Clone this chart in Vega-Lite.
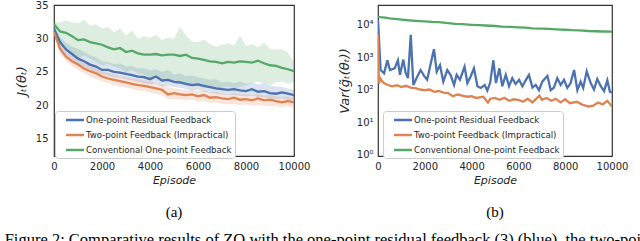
{
  "$schema": "https://vega.github.io/schema/vega-lite/v6.json",
  "padding": {"left": 4, "top": 0, "right": 5, "bottom": 5},
  "background": "white",
  "config": {
    "view": {"stroke": "#333333", "strokeWidth": 1.2},
    "axis": {"domain": false, "ticks": false, "grid": false, "labelOverlap": false, "labelFont": "DejaVu Sans", "labelFontSize": 10, "labelColor": "#262626", "titleFont": "DejaVu Sans", "titleFontSize": 11, "titleFontStyle": "italic", "titleFontWeight": "normal", "titleColor": "#262626"},
    "legend": {"fillColor": "white", "strokeColor": "#cccccc", "cornerRadius": 3, "padding": 3, "labelFont": "DejaVu Sans", "labelFontSize": 8.6, "labelColor": "#262626", "labelLimit": 400, "symbolType": "M-2,0H2", "symbolSize": 81, "symbolStrokeWidth": 2.5, "symbolOpacity": 1, "symbolOffset": 11, "rowPadding": 4, "labelOffset": 5, "title": null},
    "title": {"font": "Liberation Serif", "fontSize": 14, "fontWeight": "normal", "color": "black"}
  },
  "title": {"text": "Figure 2: Comparative results of ZO with the one-point residual feedback (3) (blue), the two-point feedback", "orient": "bottom", "anchor": "start", "dx": -10, "offset": 11, "fontSize": 16.5},
  "resolve": {"legend": {"color": "independent"}},
  "spacing": 26,
  "hconcat": [
    {
      "width": 240,
      "height": 151,
      "title": {"text": "(a)", "orient": "bottom", "offset": 20, "fontSize": 15},
      "data": {"values": [
        {"s":"One-point Residual Feedback","ep":0,"m":31.5,"lo":31.0,"hi":32.0},
        {"s":"One-point Residual Feedback","ep":250,"m":29.5,"lo":28.8,"hi":30.3},
        {"s":"One-point Residual Feedback","ep":500,"m":28.4,"lo":27.6,"hi":29.4},
        {"s":"One-point Residual Feedback","ep":750,"m":27.7,"lo":26.8,"hi":28.8},
        {"s":"One-point Residual Feedback","ep":1000,"m":27.0,"lo":26.2,"hi":28.5},
        {"s":"One-point Residual Feedback","ep":1250,"m":26.6,"lo":25.7,"hi":28.0},
        {"s":"One-point Residual Feedback","ep":1500,"m":26.1,"lo":25.3,"hi":27.5},
        {"s":"One-point Residual Feedback","ep":1750,"m":25.8,"lo":24.9,"hi":27.2},
        {"s":"One-point Residual Feedback","ep":2000,"m":25.3,"lo":24.6,"hi":26.6},
        {"s":"One-point Residual Feedback","ep":2250,"m":25.3,"lo":24.4,"hi":26.5},
        {"s":"One-point Residual Feedback","ep":2500,"m":25.0,"lo":24.2,"hi":26.2},
        {"s":"One-point Residual Feedback","ep":2750,"m":24.9,"lo":24.1,"hi":26.3},
        {"s":"One-point Residual Feedback","ep":3000,"m":24.7,"lo":23.9,"hi":25.8},
        {"s":"One-point Residual Feedback","ep":3250,"m":24.5,"lo":23.7,"hi":25.9},
        {"s":"One-point Residual Feedback","ep":3500,"m":24.3,"lo":23.5,"hi":25.5},
        {"s":"One-point Residual Feedback","ep":3750,"m":24.2,"lo":23.3,"hi":25.6},
        {"s":"One-point Residual Feedback","ep":4000,"m":23.9,"lo":23.1,"hi":25.2},
        {"s":"One-point Residual Feedback","ep":4250,"m":24.3,"lo":23.3,"hi":25.4},
        {"s":"One-point Residual Feedback","ep":4500,"m":23.7,"lo":22.8,"hi":25.0},
        {"s":"One-point Residual Feedback","ep":4750,"m":23.8,"lo":22.9,"hi":25.3},
        {"s":"One-point Residual Feedback","ep":5000,"m":23.5,"lo":22.7,"hi":24.6},
        {"s":"One-point Residual Feedback","ep":5250,"m":23.4,"lo":22.6,"hi":24.8},
        {"s":"One-point Residual Feedback","ep":5500,"m":23.2,"lo":22.4,"hi":24.3},
        {"s":"One-point Residual Feedback","ep":5750,"m":23.0,"lo":22.2,"hi":24.5},
        {"s":"One-point Residual Feedback","ep":6000,"m":23.1,"lo":22.3,"hi":24.2},
        {"s":"One-point Residual Feedback","ep":6250,"m":22.9,"lo":22.0,"hi":24.0},
        {"s":"One-point Residual Feedback","ep":6500,"m":22.7,"lo":21.9,"hi":23.8},
        {"s":"One-point Residual Feedback","ep":6750,"m":22.5,"lo":21.7,"hi":23.9},
        {"s":"One-point Residual Feedback","ep":7000,"m":22.4,"lo":21.6,"hi":23.4},
        {"s":"One-point Residual Feedback","ep":7250,"m":22.3,"lo":21.5,"hi":23.5},
        {"s":"One-point Residual Feedback","ep":7500,"m":22.4,"lo":21.5,"hi":23.3},
        {"s":"One-point Residual Feedback","ep":7750,"m":22.2,"lo":21.4,"hi":23.6},
        {"s":"One-point Residual Feedback","ep":8000,"m":22.1,"lo":21.3,"hi":23.2},
        {"s":"One-point Residual Feedback","ep":8250,"m":22.4,"lo":21.4,"hi":23.4},
        {"s":"One-point Residual Feedback","ep":8500,"m":22.0,"lo":21.2,"hi":23.1},
        {"s":"One-point Residual Feedback","ep":8750,"m":22.1,"lo":21.2,"hi":23.3},
        {"s":"One-point Residual Feedback","ep":9000,"m":21.8,"lo":21.0,"hi":22.9},
        {"s":"One-point Residual Feedback","ep":9250,"m":21.7,"lo":20.9,"hi":22.8},
        {"s":"One-point Residual Feedback","ep":9500,"m":21.9,"lo":21.0,"hi":22.7},
        {"s":"One-point Residual Feedback","ep":9750,"m":21.7,"lo":20.8,"hi":22.5},
        {"s":"One-point Residual Feedback","ep":10000,"m":21.5,"lo":20.7,"hi":22.3},
        {"s":"Two-point Feedback (Impractical)","ep":0,"m":31.0,"lo":30.6,"hi":31.5},
        {"s":"Two-point Feedback (Impractical)","ep":250,"m":28.5,"lo":27.9,"hi":29.2},
        {"s":"Two-point Feedback (Impractical)","ep":500,"m":27.3,"lo":26.6,"hi":28.0},
        {"s":"Two-point Feedback (Impractical)","ep":750,"m":26.6,"lo":25.9,"hi":27.4},
        {"s":"Two-point Feedback (Impractical)","ep":1000,"m":26.1,"lo":25.3,"hi":26.9},
        {"s":"Two-point Feedback (Impractical)","ep":1250,"m":25.5,"lo":24.8,"hi":26.3},
        {"s":"Two-point Feedback (Impractical)","ep":1500,"m":25.1,"lo":24.3,"hi":25.9},
        {"s":"Two-point Feedback (Impractical)","ep":1750,"m":24.8,"lo":23.9,"hi":25.5},
        {"s":"Two-point Feedback (Impractical)","ep":2000,"m":24.3,"lo":23.6,"hi":25.1},
        {"s":"Two-point Feedback (Impractical)","ep":2250,"m":24.0,"lo":23.3,"hi":24.8},
        {"s":"Two-point Feedback (Impractical)","ep":2500,"m":23.8,"lo":23.0,"hi":24.6},
        {"s":"Two-point Feedback (Impractical)","ep":2750,"m":23.6,"lo":22.8,"hi":24.3},
        {"s":"Two-point Feedback (Impractical)","ep":3000,"m":23.4,"lo":22.6,"hi":24.2},
        {"s":"Two-point Feedback (Impractical)","ep":3250,"m":23.2,"lo":22.4,"hi":24.0},
        {"s":"Two-point Feedback (Impractical)","ep":3500,"m":23.0,"lo":22.2,"hi":23.9},
        {"s":"Two-point Feedback (Impractical)","ep":3750,"m":22.9,"lo":22.1,"hi":23.7},
        {"s":"Two-point Feedback (Impractical)","ep":4000,"m":22.7,"lo":21.9,"hi":23.6},
        {"s":"Two-point Feedback (Impractical)","ep":4250,"m":22.5,"lo":21.7,"hi":23.3},
        {"s":"Two-point Feedback (Impractical)","ep":4500,"m":22.3,"lo":21.5,"hi":23.1},
        {"s":"Two-point Feedback (Impractical)","ep":4750,"m":21.6,"lo":20.9,"hi":22.8},
        {"s":"Two-point Feedback (Impractical)","ep":5000,"m":21.8,"lo":20.9,"hi":22.5},
        {"s":"Two-point Feedback (Impractical)","ep":5250,"m":21.6,"lo":20.8,"hi":22.4},
        {"s":"Two-point Feedback (Impractical)","ep":5500,"m":21.5,"lo":20.7,"hi":22.2},
        {"s":"Two-point Feedback (Impractical)","ep":5750,"m":21.6,"lo":20.8,"hi":22.3},
        {"s":"Two-point Feedback (Impractical)","ep":6000,"m":21.3,"lo":20.5,"hi":22.1},
        {"s":"Two-point Feedback (Impractical)","ep":6250,"m":21.5,"lo":20.6,"hi":22.2},
        {"s":"Two-point Feedback (Impractical)","ep":6500,"m":21.1,"lo":20.3,"hi":21.9},
        {"s":"Two-point Feedback (Impractical)","ep":6750,"m":21.2,"lo":20.4,"hi":22.0},
        {"s":"Two-point Feedback (Impractical)","ep":7000,"m":21.0,"lo":20.2,"hi":21.7},
        {"s":"Two-point Feedback (Impractical)","ep":7250,"m":20.9,"lo":20.1,"hi":21.6},
        {"s":"Two-point Feedback (Impractical)","ep":7500,"m":21.1,"lo":20.1,"hi":21.8},
        {"s":"Two-point Feedback (Impractical)","ep":7750,"m":20.8,"lo":20.0,"hi":21.6},
        {"s":"Two-point Feedback (Impractical)","ep":8000,"m":20.9,"lo":20.1,"hi":21.6},
        {"s":"Two-point Feedback (Impractical)","ep":8250,"m":20.7,"lo":19.9,"hi":21.5},
        {"s":"Two-point Feedback (Impractical)","ep":8500,"m":21.0,"lo":20.0,"hi":21.7},
        {"s":"Two-point Feedback (Impractical)","ep":8750,"m":20.7,"lo":19.9,"hi":21.4},
        {"s":"Two-point Feedback (Impractical)","ep":9000,"m":20.8,"lo":19.8,"hi":21.5},
        {"s":"Two-point Feedback (Impractical)","ep":9250,"m":20.6,"lo":19.8,"hi":21.3},
        {"s":"Two-point Feedback (Impractical)","ep":9500,"m":20.4,"lo":19.7,"hi":21.2},
        {"s":"Two-point Feedback (Impractical)","ep":9750,"m":20.6,"lo":19.8,"hi":21.3},
        {"s":"Two-point Feedback (Impractical)","ep":10000,"m":20.4,"lo":19.6,"hi":21.1},
        {"s":"Conventional One-point Feedback","ep":0,"m":32.2,"lo":31.5,"hi":32.6},
        {"s":"Conventional One-point Feedback","ep":250,"m":31.1,"lo":29.5,"hi":32.4},
        {"s":"Conventional One-point Feedback","ep":500,"m":30.9,"lo":28.5,"hi":32.8},
        {"s":"Conventional One-point Feedback","ep":750,"m":30.4,"lo":27.8,"hi":32.5},
        {"s":"Conventional One-point Feedback","ep":1000,"m":29.8,"lo":27.0,"hi":32.3},
        {"s":"Conventional One-point Feedback","ep":1250,"m":29.9,"lo":27.5,"hi":32.9},
        {"s":"Conventional One-point Feedback","ep":1500,"m":29.5,"lo":27.0,"hi":32.0},
        {"s":"Conventional One-point Feedback","ep":1750,"m":29.3,"lo":26.5,"hi":32.2},
        {"s":"Conventional One-point Feedback","ep":2000,"m":29.1,"lo":26.0,"hi":31.5},
        {"s":"Conventional One-point Feedback","ep":2250,"m":28.7,"lo":26.2,"hi":31.8},
        {"s":"Conventional One-point Feedback","ep":2500,"m":28.4,"lo":25.8,"hi":31.0},
        {"s":"Conventional One-point Feedback","ep":2750,"m":28.6,"lo":25.5,"hi":31.6},
        {"s":"Conventional One-point Feedback","ep":3000,"m":28.0,"lo":25.0,"hi":30.5},
        {"s":"Conventional One-point Feedback","ep":3250,"m":28.2,"lo":25.3,"hi":31.2},
        {"s":"Conventional One-point Feedback","ep":3500,"m":27.8,"lo":24.8,"hi":30.0},
        {"s":"Conventional One-point Feedback","ep":3750,"m":27.6,"lo":24.6,"hi":30.4},
        {"s":"Conventional One-point Feedback","ep":4000,"m":27.6,"lo":24.0,"hi":30.1},
        {"s":"Conventional One-point Feedback","ep":4250,"m":27.7,"lo":24.5,"hi":30.6},
        {"s":"Conventional One-point Feedback","ep":4500,"m":27.5,"lo":23.6,"hi":29.8},
        {"s":"Conventional One-point Feedback","ep":4750,"m":27.6,"lo":23.8,"hi":30.2},
        {"s":"Conventional One-point Feedback","ep":5000,"m":27.6,"lo":23.5,"hi":30.0},
        {"s":"Conventional One-point Feedback","ep":5250,"m":27.4,"lo":23.2,"hi":31.8},
        {"s":"Conventional One-point Feedback","ep":5500,"m":27.6,"lo":23.0,"hi":30.5},
        {"s":"Conventional One-point Feedback","ep":5750,"m":27.1,"lo":22.8,"hi":29.6},
        {"s":"Conventional One-point Feedback","ep":6000,"m":27.0,"lo":22.9,"hi":29.5},
        {"s":"Conventional One-point Feedback","ep":6250,"m":26.8,"lo":22.5,"hi":29.9},
        {"s":"Conventional One-point Feedback","ep":6500,"m":26.6,"lo":22.7,"hi":29.2},
        {"s":"Conventional One-point Feedback","ep":6750,"m":26.5,"lo":22.4,"hi":28.8},
        {"s":"Conventional One-point Feedback","ep":7000,"m":26.3,"lo":22.6,"hi":29.1},
        {"s":"Conventional One-point Feedback","ep":7250,"m":26.5,"lo":22.8,"hi":29.3},
        {"s":"Conventional One-point Feedback","ep":7500,"m":26.4,"lo":22.5,"hi":29.0},
        {"s":"Conventional One-point Feedback","ep":7750,"m":26.6,"lo":22.7,"hi":30.5},
        {"s":"Conventional One-point Feedback","ep":8000,"m":26.5,"lo":23.0,"hi":28.9},
        {"s":"Conventional One-point Feedback","ep":8250,"m":26.4,"lo":23.3,"hi":29.2},
        {"s":"Conventional One-point Feedback","ep":8500,"m":26.7,"lo":23.5,"hi":28.7},
        {"s":"Conventional One-point Feedback","ep":8750,"m":26.3,"lo":23.2,"hi":29.4},
        {"s":"Conventional One-point Feedback","ep":9000,"m":26.0,"lo":22.9,"hi":28.5},
        {"s":"Conventional One-point Feedback","ep":9250,"m":25.9,"lo":23.4,"hi":28.3},
        {"s":"Conventional One-point Feedback","ep":9500,"m":25.6,"lo":23.6,"hi":28.5},
        {"s":"Conventional One-point Feedback","ep":9750,"m":25.4,"lo":23.2,"hi":27.9},
        {"s":"Conventional One-point Feedback","ep":10000,"m":25.1,"lo":23.5,"hi":26.5}
      ]},
      "encoding": {
        "x": {"field": "ep", "type": "quantitative", "scale": {"domain": [0, 10000], "nice": false}, "axis": {"values": [0, 2000, 4000, 6000, 8000, 10000], "format": "d", "title": "Episode", "labelPadding": 5, "titlePadding": 3, "labelFlush": false}},
        "color": {"field": "s", "type": "nominal", "scale": {"domain": ["One-point Residual Feedback", "Two-point Feedback (Impractical)", "Conventional One-point Feedback"], "range": ["#4C72B0", "#DD8452", "#55A868"]}, "legend": {"orient": "none", "legendX": 1, "legendY": 106}}
      },
      "layer": [
        {"mark": {"type": "area", "opacity": 0.2, "clip": true},
         "encoding": {"y": {"field": "lo", "type": "quantitative", "scale": {"domain": [12.3, 35.1], "nice": false, "zero": false}, "axis": {"values": [15, 20, 25, 30, 35], "labelOverlap": false, "title": "Jₜ(θₜ)", "titleFontSize": 13, "labelPadding": 6, "titlePadding": 7}}, "y2": {"field": "hi"}}},
        {"mark": {"type": "line", "strokeWidth": 2.3, "clip": true},
         "encoding": {"y": {"field": "m", "type": "quantitative", "axis": {"values": [15, 20, 25, 30, 35], "labelOverlap": false, "title": "Jₜ(θₜ)", "titleFontSize": 13, "labelPadding": 6, "titlePadding": 7}}}}
      ]
    },
    {
      "width": 234,
      "height": 151,
      "title": {"text": "(b)", "orient": "bottom", "offset": 20, "fontSize": 15},
      "data": {"values": [
        {"s":"One-point Residual Feedback","ep":0,"v":13800},
        {"s":"One-point Residual Feedback","ep":110,"v":398},
        {"s":"One-point Residual Feedback","ep":260,"v":316},
        {"s":"One-point Residual Feedback","ep":400,"v":794},
        {"s":"One-point Residual Feedback","ep":510,"v":398},
        {"s":"One-point Residual Feedback","ep":710,"v":447},
        {"s":"One-point Residual Feedback","ep":850,"v":794},
        {"s":"One-point Residual Feedback","ep":940,"v":282},
        {"s":"One-point Residual Feedback","ep":1080,"v":832},
        {"s":"One-point Residual Feedback","ep":1180,"v":331},
        {"s":"One-point Residual Feedback","ep":1280,"v":224},
        {"s":"One-point Residual Feedback","ep":1400,"v":4786},
        {"s":"One-point Residual Feedback","ep":1510,"v":138},
        {"s":"One-point Residual Feedback","ep":1680,"v":251},
        {"s":"One-point Residual Feedback","ep":1820,"v":398},
        {"s":"One-point Residual Feedback","ep":1970,"v":263},
        {"s":"One-point Residual Feedback","ep":2100,"v":200},
        {"s":"One-point Residual Feedback","ep":2390,"v":1738},
        {"s":"One-point Residual Feedback","ep":2510,"v":355},
        {"s":"One-point Residual Feedback","ep":2650,"v":562},
        {"s":"One-point Residual Feedback","ep":2790,"v":174},
        {"s":"One-point Residual Feedback","ep":2960,"v":398},
        {"s":"One-point Residual Feedback","ep":3100,"v":282},
        {"s":"One-point Residual Feedback","ep":3250,"v":138},
        {"s":"One-point Residual Feedback","ep":3360,"v":282},
        {"s":"One-point Residual Feedback","ep":3500,"v":200},
        {"s":"One-point Residual Feedback","ep":3700,"v":501},
        {"s":"One-point Residual Feedback","ep":3820,"v":158},
        {"s":"One-point Residual Feedback","ep":3960,"v":251},
        {"s":"One-point Residual Feedback","ep":4100,"v":447},
        {"s":"One-point Residual Feedback","ep":4250,"v":126},
        {"s":"One-point Residual Feedback","ep":4390,"v":112},
        {"s":"One-point Residual Feedback","ep":4560,"v":138},
        {"s":"One-point Residual Feedback","ep":4670,"v":93},
        {"s":"One-point Residual Feedback","ep":4790,"v":158},
        {"s":"One-point Residual Feedback","ep":4930,"v":794},
        {"s":"One-point Residual Feedback","ep":5040,"v":158},
        {"s":"One-point Residual Feedback","ep":5190,"v":447},
        {"s":"One-point Residual Feedback","ep":5310,"v":126},
        {"s":"One-point Residual Feedback","ep":5460,"v":282},
        {"s":"One-point Residual Feedback","ep":5600,"v":126},
        {"s":"One-point Residual Feedback","ep":5740,"v":224},
        {"s":"One-point Residual Feedback","ep":5880,"v":148},
        {"s":"One-point Residual Feedback","ep":6030,"v":200},
        {"s":"One-point Residual Feedback","ep":6170,"v":126},
        {"s":"One-point Residual Feedback","ep":6310,"v":191},
        {"s":"One-point Residual Feedback","ep":6450,"v":282},
        {"s":"One-point Residual Feedback","ep":6600,"v":115},
        {"s":"One-point Residual Feedback","ep":6740,"v":138},
        {"s":"One-point Residual Feedback","ep":6880,"v":95},
        {"s":"One-point Residual Feedback","ep":7020,"v":174},
        {"s":"One-point Residual Feedback","ep":7240,"v":263},
        {"s":"One-point Residual Feedback","ep":7380,"v":95},
        {"s":"One-point Residual Feedback","ep":7520,"v":115},
        {"s":"One-point Residual Feedback","ep":7660,"v":224},
        {"s":"One-point Residual Feedback","ep":7810,"v":138},
        {"s":"One-point Residual Feedback","ep":7950,"v":200},
        {"s":"One-point Residual Feedback","ep":8090,"v":112},
        {"s":"One-point Residual Feedback","ep":8230,"v":158},
        {"s":"One-point Residual Feedback","ep":8380,"v":398},
        {"s":"One-point Residual Feedback","ep":8520,"v":95},
        {"s":"One-point Residual Feedback","ep":8660,"v":174},
        {"s":"One-point Residual Feedback","ep":8770,"v":112},
        {"s":"One-point Residual Feedback","ep":8920,"v":363},
        {"s":"One-point Residual Feedback","ep":9090,"v":158},
        {"s":"One-point Residual Feedback","ep":9230,"v":100},
        {"s":"One-point Residual Feedback","ep":9370,"v":209},
        {"s":"One-point Residual Feedback","ep":9520,"v":126},
        {"s":"One-point Residual Feedback","ep":9660,"v":89},
        {"s":"One-point Residual Feedback","ep":9800,"v":191},
        {"s":"One-point Residual Feedback","ep":9910,"v":85},
        {"s":"One-point Residual Feedback","ep":10000,"v":81},
        {"s":"Two-point Feedback (Impractical)","ep":0,"v":5000},
        {"s":"Two-point Feedback (Impractical)","ep":40,"v":150},
        {"s":"Two-point Feedback (Impractical)","ep":100,"v":220},
        {"s":"Two-point Feedback (Impractical)","ep":200,"v":170},
        {"s":"Two-point Feedback (Impractical)","ep":300,"v":150},
        {"s":"Two-point Feedback (Impractical)","ep":400,"v":140},
        {"s":"Two-point Feedback (Impractical)","ep":600,"v":125},
        {"s":"Two-point Feedback (Impractical)","ep":800,"v":135},
        {"s":"Two-point Feedback (Impractical)","ep":1000,"v":120},
        {"s":"Two-point Feedback (Impractical)","ep":1200,"v":130},
        {"s":"Two-point Feedback (Impractical)","ep":1400,"v":115},
        {"s":"Two-point Feedback (Impractical)","ep":1600,"v":110},
        {"s":"Two-point Feedback (Impractical)","ep":1800,"v":100},
        {"s":"Two-point Feedback (Impractical)","ep":2000,"v":95},
        {"s":"Two-point Feedback (Impractical)","ep":2200,"v":100},
        {"s":"Two-point Feedback (Impractical)","ep":2400,"v":85},
        {"s":"Two-point Feedback (Impractical)","ep":2600,"v":90},
        {"s":"Two-point Feedback (Impractical)","ep":2800,"v":80},
        {"s":"Two-point Feedback (Impractical)","ep":3000,"v":78},
        {"s":"Two-point Feedback (Impractical)","ep":3200,"v":62},
        {"s":"Two-point Feedback (Impractical)","ep":3400,"v":70},
        {"s":"Two-point Feedback (Impractical)","ep":3600,"v":65},
        {"s":"Two-point Feedback (Impractical)","ep":3800,"v":60},
        {"s":"Two-point Feedback (Impractical)","ep":4000,"v":62},
        {"s":"Two-point Feedback (Impractical)","ep":4200,"v":55},
        {"s":"Two-point Feedback (Impractical)","ep":4500,"v":60},
        {"s":"Two-point Feedback (Impractical)","ep":4700,"v":40},
        {"s":"Two-point Feedback (Impractical)","ep":4800,"v":52},
        {"s":"Two-point Feedback (Impractical)","ep":5000,"v":55},
        {"s":"Two-point Feedback (Impractical)","ep":5200,"v":48},
        {"s":"Two-point Feedback (Impractical)","ep":5400,"v":56},
        {"s":"Two-point Feedback (Impractical)","ep":5600,"v":45},
        {"s":"Two-point Feedback (Impractical)","ep":5800,"v":50},
        {"s":"Two-point Feedback (Impractical)","ep":6000,"v":48},
        {"s":"Two-point Feedback (Impractical)","ep":6200,"v":42},
        {"s":"Two-point Feedback (Impractical)","ep":6400,"v":52},
        {"s":"Two-point Feedback (Impractical)","ep":6600,"v":40},
        {"s":"Two-point Feedback (Impractical)","ep":6900,"v":65},
        {"s":"Two-point Feedback (Impractical)","ep":7000,"v":48},
        {"s":"Two-point Feedback (Impractical)","ep":7200,"v":55},
        {"s":"Two-point Feedback (Impractical)","ep":7400,"v":45},
        {"s":"Two-point Feedback (Impractical)","ep":7600,"v":52},
        {"s":"Two-point Feedback (Impractical)","ep":7800,"v":40},
        {"s":"Two-point Feedback (Impractical)","ep":8000,"v":50},
        {"s":"Two-point Feedback (Impractical)","ep":8200,"v":38},
        {"s":"Two-point Feedback (Impractical)","ep":8500,"v":42},
        {"s":"Two-point Feedback (Impractical)","ep":8700,"v":35},
        {"s":"Two-point Feedback (Impractical)","ep":9000,"v":30},
        {"s":"Two-point Feedback (Impractical)","ep":9200,"v":32},
        {"s":"Two-point Feedback (Impractical)","ep":9400,"v":40},
        {"s":"Two-point Feedback (Impractical)","ep":9600,"v":35},
        {"s":"Two-point Feedback (Impractical)","ep":9800,"v":45},
        {"s":"Two-point Feedback (Impractical)","ep":10000,"v":30},
        {"s":"Conventional One-point Feedback","ep":0,"v":17500},
        {"s":"Conventional One-point Feedback","ep":100,"v":16800},
        {"s":"Conventional One-point Feedback","ep":300,"v":16200},
        {"s":"Conventional One-point Feedback","ep":500,"v":15500},
        {"s":"Conventional One-point Feedback","ep":700,"v":15000},
        {"s":"Conventional One-point Feedback","ep":1000,"v":14200},
        {"s":"Conventional One-point Feedback","ep":1300,"v":13500},
        {"s":"Conventional One-point Feedback","ep":1600,"v":13000},
        {"s":"Conventional One-point Feedback","ep":2000,"v":12500},
        {"s":"Conventional One-point Feedback","ep":2300,"v":12000},
        {"s":"Conventional One-point Feedback","ep":2600,"v":11800},
        {"s":"Conventional One-point Feedback","ep":3000,"v":11000},
        {"s":"Conventional One-point Feedback","ep":3300,"v":10500},
        {"s":"Conventional One-point Feedback","ep":3600,"v":10200},
        {"s":"Conventional One-point Feedback","ep":4000,"v":9800},
        {"s":"Conventional One-point Feedback","ep":4300,"v":9500},
        {"s":"Conventional One-point Feedback","ep":4600,"v":9300},
        {"s":"Conventional One-point Feedback","ep":5000,"v":9000},
        {"s":"Conventional One-point Feedback","ep":5300,"v":8600},
        {"s":"Conventional One-point Feedback","ep":5600,"v":8500},
        {"s":"Conventional One-point Feedback","ep":6000,"v":8200},
        {"s":"Conventional One-point Feedback","ep":6300,"v":8000},
        {"s":"Conventional One-point Feedback","ep":6600,"v":7600},
        {"s":"Conventional One-point Feedback","ep":7000,"v":7500},
        {"s":"Conventional One-point Feedback","ep":7300,"v":7300},
        {"s":"Conventional One-point Feedback","ep":7600,"v":7100},
        {"s":"Conventional One-point Feedback","ep":8000,"v":6900},
        {"s":"Conventional One-point Feedback","ep":8300,"v":6700},
        {"s":"Conventional One-point Feedback","ep":8600,"v":6600},
        {"s":"Conventional One-point Feedback","ep":9000,"v":6300},
        {"s":"Conventional One-point Feedback","ep":9300,"v":6200},
        {"s":"Conventional One-point Feedback","ep":9600,"v":6100},
        {"s":"Conventional One-point Feedback","ep":10000,"v":6000}
      ]},
      "mark": {"type": "line", "strokeWidth": 2.3, "clip": true},
      "encoding": {
        "x": {"field": "ep", "type": "quantitative", "scale": {"domain": [0, 10000], "nice": false}, "axis": {"values": [0, 2000, 4000, 6000, 8000, 10000], "format": "d", "title": "Episode", "labelPadding": 5, "titlePadding": 3, "labelFlush": false}},
        "y": {"field": "v", "type": "quantitative", "scale": {"type": "log", "domain": [0.9, 39800], "nice": false}, "axis": {"values": [1, 10, 100, 1000, 10000], "labelExpr": "'10' + ['⁰','¹','²','³','⁴'][round(log(datum.value)/LN10)]", "title": "Var(g̃ₜ(θₜ))", "titleFontSize": 13, "labelPadding": 5, "titlePadding": 5}},
        "color": {"field": "s", "type": "nominal", "scale": {"domain": ["One-point Residual Feedback", "Two-point Feedback (Impractical)", "Conventional One-point Feedback"], "range": ["#4C72B0", "#DD8452", "#55A868"]}, "legend": {"orient": "none", "legendX": 5, "legendY": 106}}
      }
    }
  ]
}
